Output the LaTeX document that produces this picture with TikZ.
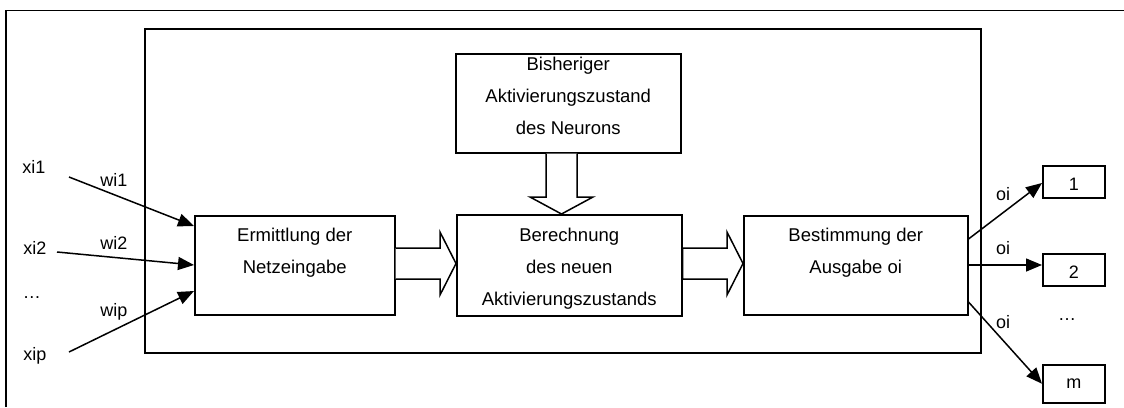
\documentclass[tikz,border=0pt]{standalone}
\usepackage{fontspec}
\setmainfont{Liberation Sans}
\usetikzlibrary{arrows.meta,calc}
\begin{document}
\begin{tikzpicture}[x=1pt,y=-1pt,
  box/.style={draw,line width=1.5pt,fill=white,inner sep=0pt,anchor=north west},
  txt/.style={align=center,inner sep=0pt,anchor=base,font=\fontsize{18.5}{32}\selectfont},
  lbl/.style={inner sep=0pt,font=\fontsize{18}{22}\selectfont},
  conn/.style={line width=1.5pt,-{Triangle[length=16pt,width=13pt]}},
  blockarrow/.style={draw,line width=1.5pt,fill=white,line join=miter}]
\useasboundingbox (0,0) rectangle (1124,407);
% outer frame (cut off)
\draw[line width=1.8pt] (6,407) -- (6,10.5) -- (1124,10.5);
% inner frame
\node[box, line width=1.8pt, minimum width=836pt, minimum height=324pt] (frame) at (144,28) {};
% main boxes
\node[box, minimum width=200pt, minimum height=99pt] (erm) at (194,215) {};
\node[box, minimum width=225pt, minimum height=101pt] (ber) at (456,214) {};
\node[box, minimum width=224pt, minimum height=99pt] (bes) at (743,215) {};
\node[box, minimum width=225pt, minimum height=99pt] (bis) at (455,53) {};
\node[txt] (ermtxt) at ($(erm.north)+(0,58.7)$) {Ermittlung der\\Netzeingabe};
\node[txt] (bertxt) at ($(ber.north)+(0,91.7)$) {Berechnung\\des neuen\\Aktivierungszustands};
\node[txt] (bestxt) at ($(bes.north)+(0,58.7)$) {Bestimmung der\\Ausgabe oi};
\node[txt] (bistxt) at ($(bis.north)+(0,81.5)$) {Bisheriger\\Aktivierungszustand\\des Neurons};
% output boxes
\node[box, minimum width=62pt, minimum height=32pt] (o1) at (1042,165) {};
\node[box, minimum width=62pt, minimum height=32pt] (o2) at (1042,253) {};
\node[box, minimum width=62pt, minimum height=38pt] (om) at (1042,364) {};
\node[lbl] (o1t) at ($(o1.center)+(0,3)$) {1};
\node[lbl] (o2t) at ($(o2.center)+(0,2)$) {2};
\node[lbl] (omt) at (om.center) {m};
% block arrows
\draw[blockarrow] (erm.east |- 0,248) -- (440,248) -- (440,232) -- (ber.west |- 0,263.5) -- (440,295) -- (440,279) -- (erm.east |- 0,279);
\draw[blockarrow] (bes.west |- 0,263.5) -- (727,295) -- (727,279) -- (ber.east |- 0,279) -- (ber.east |- 0,248) -- (727,248) -- (727,232) -- cycle;
\draw[blockarrow] (bis.south -| 546,0) -- (546,197) -- (530,197) -- (ber.north -| 561.5,0) -- (593,197) -- (577,197) -- (bis.south -| 577,0);
% input labels
\node[lbl] (xi1) at (34,167) {xi1};
\node[lbl] (wi1) at (114,180) {wi1};
\node[lbl] (xi2) at (35,248) {xi2};
\node[lbl] (wi2) at (114,243) {wi2};
\node[lbl] (idots) at (32,298) {…};
\node[lbl] (wip) at (114,312) {wip};
\node[lbl] (xip) at (35,356) {xip};
\coordinate (s1) at (69,177);
\coordinate (s2) at (57,252);
\coordinate (s3) at (69,352);
\draw[conn] (s1) -- (erm.west |- 0,226);
\draw[conn] (s2) -- (erm.west |- 0,265);
\draw[conn] (s3) -- (erm.west |- 0,291);
% outputs
\draw[conn] (bes.east |- 0,239) -- (o1.west |- 0,183);
\draw[conn] (bes.east |- 0,265) -- (o2.west |- 0,265);
\draw[conn] (bes.east |- 0,302) -- (om.west);
\node[lbl] (oi1) at (1003,194) {oi};
\node[lbl] (oi2) at (1003,248) {oi};
\node[lbl] (oi3) at (1003,322) {oi};
\node[lbl] (odots) at (1067,320) {…};
\end{tikzpicture}
\end{document}
